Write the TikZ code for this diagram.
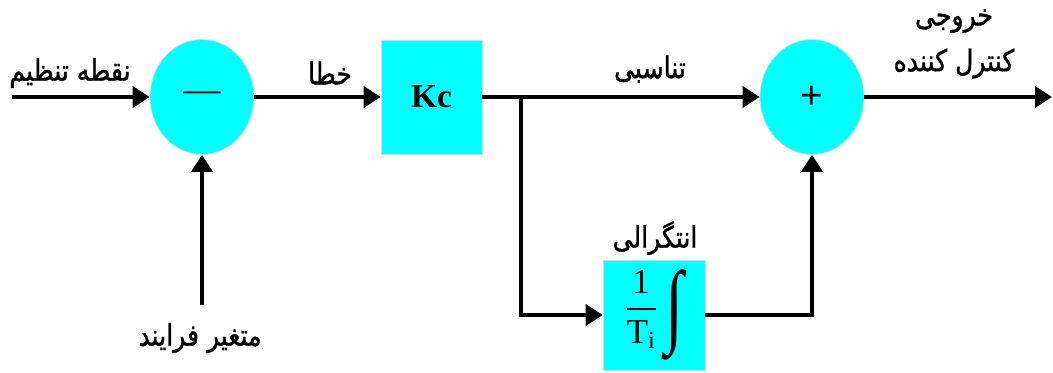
\documentclass[tikz,border=0pt]{standalone}
\usepackage{amsmath}
\usepackage{fontspec}
\setmainfont{Liberation Serif}
\setsansfont{Liberation Sans}
\newfontfamily\farsifont[Script=Arabic,FakeStretch=0.84,FakeBold=1.2]{DejaVu Sans}
\TeXXeTstate=1
\usetikzlibrary{arrows.meta,shapes.geometric}
\definecolor{aqua}{RGB}{0,255,255}

\begin{document}
\begin{tikzpicture}[
  sumnode/.style={ellipse, fill=aqua, draw=black!15, minimum width=2.08cm, minimum height=2.3cm, inner sep=0pt},
  blocknode/.style={rectangle, fill=aqua, draw=black!15, inner sep=0pt},
  wire/.style={line width=2.1pt},
  sig/.style={wire, -{Triangle[length=0.34cm,width=0.42cm]}},
  lbl/.style={font=\farsifont\fontsize{17}{26}\selectfont, align=center}
]

\useasboundingbox (0,0) rectangle (21.06,7.46);

% Nodes
\node[sumnode] (cmp) at (4.04,5.52) {\raisebox{-1.5mm}{\fontsize{21}{21}\selectfont ---}};
\node[sumnode] (add) at (16.24,5.52) {\fontsize{22}{22}\selectfont\sffamily +};
\node[blocknode, minimum width=2.02cm, minimum height=2.28cm] (kc) at (8.63,5.52)
  {\fontsize{19}{19}\selectfont\bfseries Kc};
\node[blocknode, minimum width=2.04cm, minimum height=2.2cm] (ti) at (13.08,1.16)
  {\fontsize{20}{20}\selectfont$\dfrac{\text{1}}{\text{T}_{\text{i}}}$\hspace{1.5mm}\raisebox{-3.5mm}{\scalebox{1.25}[1.75]{\fontsize{30}{30}\selectfont ∫}}};

% Free ends
\coordinate (sp) at (0.24,5.52);
\coordinate (pv) at (4.04,1.36);
\coordinate (out) at (21.04,5.52);
\coordinate (br) at (10.42,5.52);

% Signals
\draw[sig] (sp) -- (cmp);
\draw[sig] (pv) -- (cmp);
\draw[sig] (cmp) -- (kc);
\draw[sig] (kc) -- (add);
\draw[sig] (br) |- (ti);
\draw[sig] (ti) -| (add);
\draw[sig] (add) -- (out);

% Labels
\node[lbl] (l1) at (1.4,6.0) {\beginR نقطه تنظیم\endR};
\node[lbl] (l2) at (6.6,6.0) {\beginR خطا\endR};
\node[lbl] (l3) at (13.0,6.08) {\beginR تناسبی\endR};
\node[lbl] (l4) at (19.08,6.58) {\beginR خروجی\endR\\\beginR کنترل کننده\endR};
\node[lbl] (l5) at (13.1,2.7) {\beginR انتگرالی\endR};
\node[lbl] (l6) at (4.0,0.7) {\beginR متغیر فرایند\endR};

\end{tikzpicture}
\end{document}
